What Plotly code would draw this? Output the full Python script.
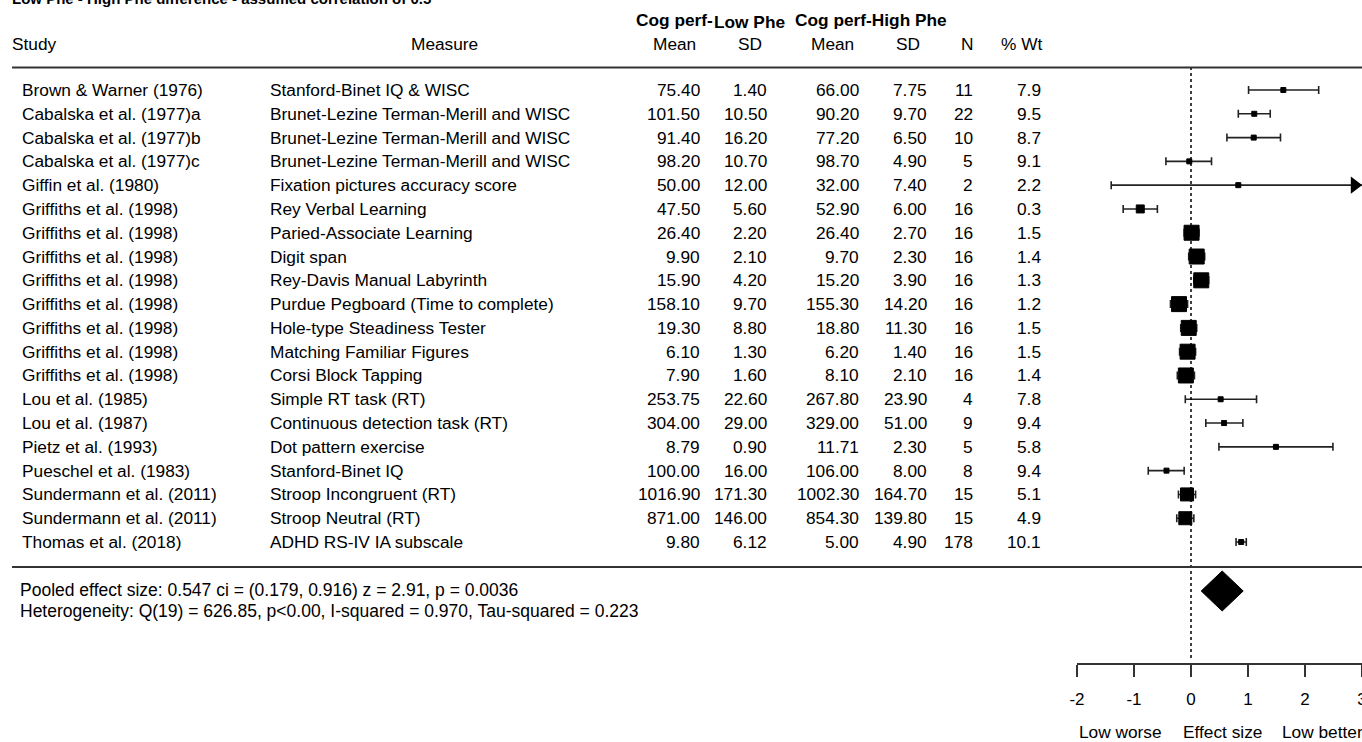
import plotly.graph_objects as go

# ---------------- data ----------------
studies = ["Brown & Warner (1976)", "Cabalska et al. (1977)a", "Cabalska et al. (1977)b",
           "Cabalska et al. (1977)c", "Giffin et al. (1980)", "Griffiths et al. (1998)",
           "Griffiths et al. (1998)", "Griffiths et al. (1998)", "Griffiths et al. (1998)",
           "Griffiths et al. (1998)", "Griffiths et al. (1998)", "Griffiths et al. (1998)",
           "Griffiths et al. (1998)", "Lou et al. (1985)", "Lou et al. (1987)",
           "Pietz et al. (1993)", "Pueschel et al. (1983)", "Sundermann et al. (2011)",
           "Sundermann et al. (2011)", "Thomas et al. (2018)"]
measures = ["Stanford-Binet IQ & WISC", "Brunet-Lezine Terman-Merill and WISC",
            "Brunet-Lezine Terman-Merill and WISC", "Brunet-Lezine Terman-Merill and WISC",
            "Fixation pictures accuracy score", "Rey Verbal Learning", "Paried-Associate Learning",
            "Digit span", "Rey-Davis Manual Labyrinth", "Purdue Pegboard (Time to complete)",
            "Hole-type Steadiness Tester", "Matching Familiar Figures", "Corsi Block Tapping",
            "Simple RT task (RT)", "Continuous detection task (RT)", "Dot pattern exercise",
            "Stanford-Binet IQ", "Stroop Incongruent (RT)", "Stroop Neutral (RT)",
            "ADHD RS-IV IA subscale"]
low_mean = [75.40, 101.50, 91.40, 98.20, 50.00, 47.50, 26.40, 9.90, 15.90, 158.10, 19.30, 6.10,
            7.90, 253.75, 304.00, 8.79, 100.00, 1016.90, 871.00, 9.80]
low_sd = [1.40, 10.50, 16.20, 10.70, 12.00, 5.60, 2.20, 2.10, 4.20, 9.70, 8.80, 1.30, 1.60,
          22.60, 29.00, 0.90, 16.00, 171.30, 146.00, 6.12]
high_mean = [66.00, 90.20, 77.20, 98.70, 32.00, 52.90, 26.40, 9.70, 15.20, 155.30, 18.80, 6.20,
             8.10, 267.80, 329.00, 11.71, 106.00, 1002.30, 854.30, 5.00]
high_sd = [7.75, 9.70, 6.50, 4.90, 7.40, 6.00, 2.70, 2.30, 3.90, 14.20, 11.30, 1.40, 2.10,
           23.90, 51.00, 2.30, 8.00, 164.70, 139.80, 4.90]
n_sub = [11, 22, 10, 5, 2, 16, 16, 16, 16, 16, 16, 16, 16, 4, 9, 5, 8, 15, 15, 178]
pct_wt = [7.9, 9.5, 8.7, 9.1, 2.2, 0.3, 1.5, 1.4, 1.3, 1.2, 1.5, 1.5, 1.4, 7.8, 9.4, 5.8, 9.4,
          5.1, 4.9, 10.1]

effect = [1.62, 1.11, 1.10, -0.03, 0.83, -0.89, 0.01, 0.10, 0.18, -0.21, -0.04, -0.06, -0.09,
          0.52, 0.58, 1.49, -0.43, -0.07, -0.10, 0.88]
ci_low = [1.01, 0.83, 0.63, -0.44, -1.40, -1.19, -0.12, -0.04, 0.05, -0.36, -0.18, -0.20, -0.24,
          -0.10, 0.26, 0.49, -0.75, -0.22, -0.25, 0.79]
ci_high = [2.24, 1.39, 1.57, 0.36, 3.06, -0.59, 0.14, 0.24, 0.31, -0.06, 0.10, 0.08, 0.06,
           1.15, 0.91, 2.49, -0.12, 0.08, 0.05, 0.97]
box_size = [5, 5, 5, 5, 5, 8, 15, 15, 15, 15, 15, 15, 15, 5, 5, 5, 5, 13, 13, 5]

pooled_est, pooled_lo, pooled_hi = 0.547, 0.179, 0.916
pooled_z, pooled_p = 2.91, 0.0036
het_df, het_q, het_i2, het_tau2 = 19, 626.85, 0.970, 0.223

x_ticks = [-2, -1, 0, 1, 2, 3]
title_text = "Low Phe - High Phe difference - assumed correlation of 0.5"

# ---------------- layout helpers ----------------
W, H = 1362, 742
ROW0, STEP = 90.0, 23.79
XMIN, XMAX = x_ticks[0], x_ticks[-1]
FONT = "Liberation Sans, Arial, sans-serif"
FS = 17.3


def py(p):
    return 1 - p / H


def px(p):
    return p / W


def row_of(p):
    return 1 + (p - ROW0) / STEP


rows = list(range(1, len(studies) + 1))

fig = go.Figure()

# CI bars + boxes
fig.add_trace(go.Scatter(
    x=effect, y=rows, mode="markers",
    marker=dict(symbol="square", size=box_size, color="black", opacity=1,
                line=dict(width=1, color="black")),
    error_x=dict(type="data", symmetric=False,
                 array=[h - e for h, e in zip(ci_high, effect)],
                 arrayminus=[e - l for e, l in zip(effect, ci_low)],
                 color="#222", thickness=1.6, width=4),
    hoverinfo="skip"))

# arrows for CIs beyond the axis
arr_x = [XMAX - 0.13 for h in ci_high if h > XMAX]
arr_y = [r for r, h in zip(rows, ci_high) if h > XMAX]
fig.add_trace(go.Scatter(x=arr_x, y=arr_y, mode="markers",
                         marker=dict(symbol="triangle-right", size=15, color="black"),
                         hoverinfo="skip"))

# pooled diamond
yd = row_of(591)
hd = 20 / STEP
fig.add_trace(go.Scatter(
    x=[pooled_lo, pooled_est, pooled_hi, pooled_est, pooled_lo],
    y=[yd, yd - hd, yd, yd + hd, yd],
    mode="lines", fill="toself", fillcolor="black", line=dict(color="black", width=1),
    hoverinfo="skip"))

shapes = [
    dict(type="line", xref="x", yref="paper", x0=0, x1=0, y0=py(658), y1=py(68),
         line=dict(color="black", width=1.5, dash="dot")),
    dict(type="line", xref="paper", yref="paper", x0=px(12), x1=1, y0=py(67.5), y1=py(67.5),
         line=dict(color="#333", width=2)),
    dict(type="line", xref="paper", yref="paper", x0=px(12), x1=1, y0=py(567), y1=py(567),
         line=dict(color="#333", width=2)),
]

ann = []


def txt(x, y, s, anchor="left", size=FS, bold=False, yref="y"):
    ann.append(dict(x=x, y=y, xref="paper", yref=yref, text=("<b>%s</b>" % s) if bold else s,
                    showarrow=False, xanchor=anchor, yanchor="middle",
                    font=dict(family=FONT, size=size, color="black")))


# title (cut off at top)
txt(px(10), py(-1), title_text, size=15, bold=True, yref="paper")

# headers
txt(px(10), py(44), "Study", yref="paper")
txt(px(444), py(44), "Measure", anchor="center", yref="paper")
for cx, lab in [(674, "Mean"), (750, "SD"), (832, "Mean"), (908, "SD"), (967, "N"), (1022, "% Wt")]:
    txt(px(cx), py(44), lab, anchor="center", yref="paper")
txt(px(674), py(20), "Cog perf-", anchor="center", size=17.3, bold=True, yref="paper")
txt(px(750), py(22), "Low Phe", anchor="center", size=17.3, bold=True, yref="paper")
txt(px(871), py(20), "Cog perf-High Phe", anchor="center", size=17.3, bold=True, yref="paper")

# rows
for r, s, m, lm, ls, hm, hs, n, w in zip(rows, studies, measures, low_mean, low_sd, high_mean,
                                         high_sd, n_sub, pct_wt):
    txt(px(20), r, s)
    txt(px(268), r, m)
    txt(px(702), r, "%.2f" % lm, anchor="right")
    txt(px(769), r, "%.2f" % ls, anchor="right")
    txt(px(861), r, "%.2f" % hm, anchor="right")
    txt(px(929), r, "%.2f" % hs, anchor="right")
    txt(px(975), r, "%d" % n, anchor="right")
    txt(px(1043), r, "%.1f" % w, anchor="right")

# footer
txt(px(18), py(590), "Pooled effect size: %.3f ci = (%.3f, %.3f) z = %.2f, p = %.4f"
    % (pooled_est, pooled_lo, pooled_hi, pooled_z, pooled_p), size=17.5, yref="paper")
txt(px(18), py(611), "Heterogeneity: Q(%d) = %.2f, p<0.00, I-squared = %.3f, Tau-squared = %.3f"
    % (het_df, het_q, het_i2, het_tau2), size=17.5, yref="paper")

# axis labels
txt(px(1120), py(732), "Low worse", anchor="center", yref="paper")
txt(px(1222), py(732), "Effect size", anchor="center", yref="paper")
txt(px(1322), py(732), "Low better", anchor="center", yref="paper")

fig.update_layout(
    width=W, height=H, margin=dict(l=0, r=0, t=0, b=0, pad=0, autoexpand=False),
    paper_bgcolor="white", plot_bgcolor="white", showlegend=False,
    shapes=shapes, annotations=ann,
    xaxis=dict(domain=[px(1077), 1], range=[XMIN, XMAX], anchor="free", position=py(664),
               showline=True, linecolor="#333", linewidth=1.5, ticks="outside", ticklen=12,
               tickwidth=1.5, tickcolor="#333", tickvals=x_ticks, ticktext=[str(t) for t in x_ticks],
               tickfont=dict(family=FONT, size=17, color="black"), showgrid=False,
               zeroline=False, ticklabeloverflow="allow", ticklabelstandoff=8, fixedrange=True,
               automargin=False),
    yaxis=dict(domain=[0, 1], range=[row_of(H), row_of(0)], visible=False, fixedrange=True,
               automargin=False),
)

fig.write_html("out.html", config={"displayModeBar": False},
               post_script="document.body.style.margin='0';document.body.style.overflow='hidden';")
